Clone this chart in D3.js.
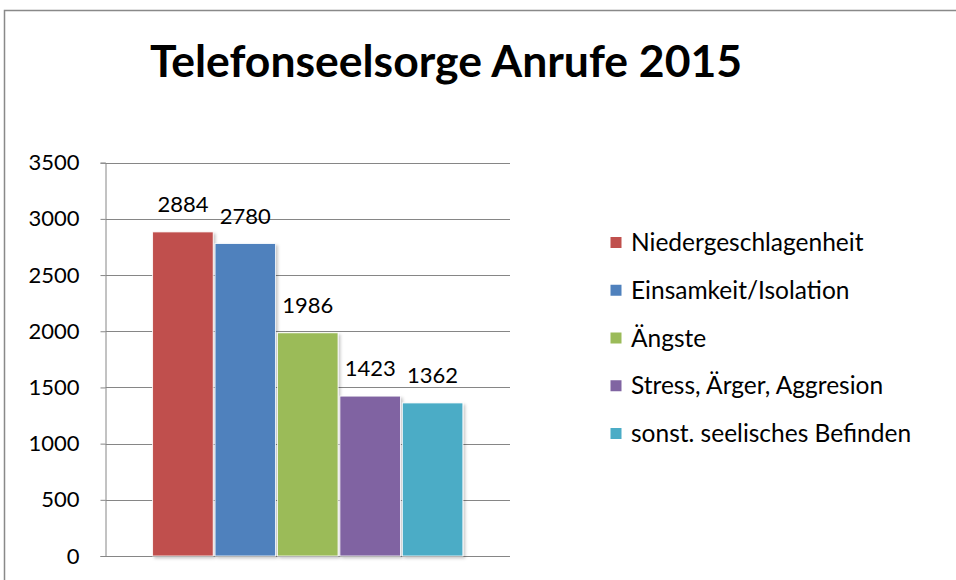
<!DOCTYPE html>
<html><head><meta charset="utf-8">
<script src="https://cdn.jsdelivr.net/npm/d3@7"></script>
<style>body{margin:0;background:#fff}svg{display:block}</style>
</head><body>
<svg id="c" width="956" height="580"></svg>
<script>
const title = "Telefonseelsorge Anrufe 2015";
const categories = ["Niedergeschlagenheit","Einsamkeit/Isolation","Ängste","Stress, Ärger, Aggresion","sonst. seelisches Befinden"];
const values = [2884, 2780, 1986, 1423, 1362];
const colors = ["#C0504D","#4F81BD","#9BBB59","#8064A2","#4BACC6"];
const yTicks = [0,500,1000,1500,2000,2500,3000,3500];

const font = "Lato, 'Open Sans', sans-serif";
const svg = d3.select("#c");

// outer border
svg.append("rect").attr("x",4.5).attr("y",10.5).attr("width",960).attr("height",600)
  .attr("fill","none").attr("stroke","#898989").attr("stroke-width",1.5);

svg.append("text").attr("x",446).attr("y",77).attr("text-anchor","middle")
  .attr("font-family",font).attr("font-weight","bold").attr("font-size",44.5)
  .attr("fill","#000").text(title);

const x0 = 105.5, x1 = 510, yTop = 162.7, yBot = 556;
const y = d3.scaleLinear().domain([0,3500]).range([yBot,yTop]);
const x = d3.scaleBand().domain(categories).range([x0,x1]).paddingInner(0.03).paddingOuter(0.755);

// gridlines
svg.append("g").selectAll("line").data(yTicks.filter(d=>d>0)).join("line")
  .attr("x1",x0).attr("x2",x1).attr("y1",d=>Math.round(y(d))+0.5).attr("y2",d=>Math.round(y(d))+0.5)
  .attr("stroke","#868686").attr("stroke-width",1);

// y axis
const yAxis = d3.axisLeft(y).tickValues(yTicks).tickSize(5).tickPadding(21).tickFormat(d3.format("d"));
const ga = svg.append("g").attr("transform",`translate(${x0},0)`).call(yAxis);
ga.select(".domain").attr("stroke","#868686");
ga.selectAll(".tick line").attr("stroke","#868686");
ga.selectAll(".tick text").attr("font-family",font).attr("font-size",22).attr("fill","#000");

// bottom axis
svg.append("line").attr("x1",x0).attr("x2",x1).attr("y1",yBot+0.5).attr("y2",yBot+0.5)
  .attr("stroke","#868686");

// shadow filter
const defs = svg.append("defs");
const f = defs.append("filter").attr("id","sh").attr("x","-10%").attr("y","-10%").attr("width","130%").attr("height","130%");
f.append("feDropShadow").attr("dx",2).attr("dy",2).attr("stdDeviation",1.5).attr("flood-color","#000").attr("flood-opacity",0.22);

svg.append("g").selectAll("rect").data(values).join("rect")
  .attr("x",(d,i)=>x(categories[i])).attr("width",x.bandwidth())
  .attr("y",d=>y(d)).attr("height",d=>yBot-y(d))
  .attr("fill",(d,i)=>colors[i]).attr("stroke","#fff").attr("stroke-width",0.8)
  .attr("filter","url(#sh)");

svg.append("g").selectAll("text").data(values).join("text")
  .attr("x",(d,i)=>x(categories[i])+x.bandwidth()/2)
  .attr("y",d=>y(d)-20).attr("text-anchor","middle")
  .attr("font-family",font).attr("font-size",22).attr("fill","#000").text(d=>d);

// legend
const lg = svg.append("g").selectAll("g").data(categories).join("g")
  .attr("transform",(d,i)=>`translate(610,${251+i*47.75})`);
lg.append("rect").attr("x",0.5).attr("y",-14).attr("width",11).attr("height",11).attr("fill",(d,i)=>colors[i]);
lg.append("text").attr("x",21).attr("y",0).attr("font-family",font).attr("font-size",24.5).attr("fill","#000").text(d=>d);
</script>
</body></html>
